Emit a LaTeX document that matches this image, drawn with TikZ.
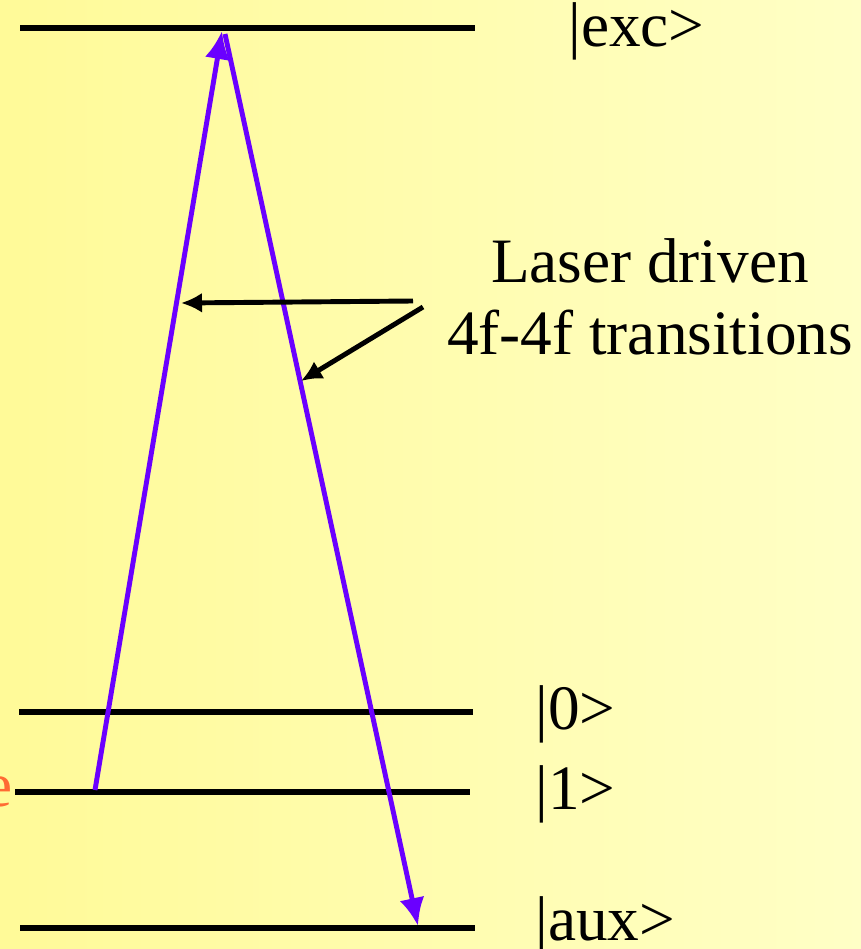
\documentclass[tikz,border=0pt]{standalone}
\usepackage{fontspec}
\setmainfont{Liberation Serif}
\usepackage{xcolor}
\usepackage{tikz}
\usetikzlibrary{arrows.meta}
\definecolor{lbgleft}{HTML}{FFFA98}
\definecolor{lbgright}{HTML}{FFFFC6}
\definecolor{lpurple}{HTML}{6A00FF}
\definecolor{lorange}{HTML}{FF6A33}
\tikzset{
  level/.style={line width=3.6pt},
  pump/.style={lpurple, line width=2.8pt, -{Latex[length=0.56cm, width=0.5cm]}},
  pointer/.style={black, line width=2.8pt, -{Latex[length=0.42cm, width=0.4cm]}},
  ket/.style={font=\fontsize{36}{42}\selectfont, inner sep=0pt, anchor=base west}
}

\begin{document}
\begin{tikzpicture}[x=0.02cm, y=-0.02cm]
\shade[left color=lbgleft, right color=lbgright] (0,0) rectangle (861,949);
\useasboundingbox (0,0) rectangle (861,949);
% energy levels
\draw[level] (20,28) -- (475,28);
\draw[level] (19,712) -- (473,712);
\draw[level] (15,792) -- (470,792);
\draw[level] (20,928) -- (475,928);
\node[ket] (exc) at (568,47) {|exc>};
\node[ket] (zero) at (535,729) {|0>};
\node[ket] (one) at (535,809) {|1>};
\node[ket] (aux) at (535,940) {|aux>};
\node[ket, anchor=base east, text=lorange] (cut) at (13,806) {e};
% transitions
\coordinate (up0) at (95,790);
\coordinate (up1) at (222,31);
\coordinate (dn0) at (225,34);
\coordinate (dn1) at (418,926);
\draw[pump] (up0) -- (up1);
\draw[pump] (dn0) -- (dn1);
\node[font=\fontsize{36}{41}\selectfont, align=center, inner sep=0pt] (laser) at (650,297)
  {Laser driven\\4f-4f transitions};
\coordinate (p0) at (413,301);
\coordinate (p1) at (181,303);
\coordinate (q0) at (423,307);
\coordinate (q1) at (301,381);
\draw[pointer] (p0) -- (p1);
\draw[pointer] (q0) -- (q1);
\end{tikzpicture}
\end{document}
